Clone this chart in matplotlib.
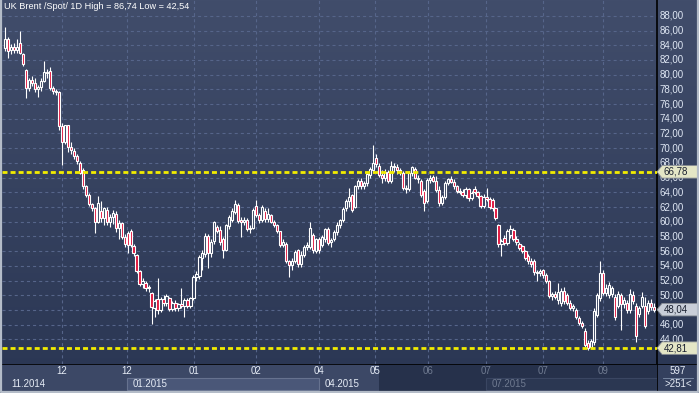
import numpy as np
import matplotlib.pyplot as plt
from matplotlib.patches import Rectangle, Polygon

plt.rcParams['font.family'] = ['Liberation Sans', 'DejaVu Sans']
plt.rcParams['lines.scale_dashes'] = False

title = "UK Brent /Spot/ 1D High = 86,74 Low = 42,54"

# daily candles
opens = [83.6, 84.9, 83.3, 83.8, 83.4, 84.3, 82.8, 80.6, 78.2, 79.3,
         78.8, 78.0, 78.3, 79.2, 80.3, 80.5, 78.2, 77.8, 77.6, 73.0,
         70.8, 73.1, 70.2, 69.6, 68.9, 68.0, 67.0, 64.8, 63.6, 62.4,
         61.8, 60.0, 61.5, 60.5, 61.6, 59.9, 60.6, 61.0, 59.2, 59.8,
         57.9, 58.5, 58.7, 56.7, 55.5, 53.3, 51.5, 51.7, 51.0, 50.3,
         48.3, 49.5, 48.0, 49.5, 49.0, 49.6, 48.1, 48.9, 48.2, 48.8,
         48.6, 49.4, 48.6, 49.6, 52.5, 52.6, 55.0, 55.6, 58.0, 55.8,
         57.4, 59.3, 58.9, 57.6, 56.2, 59.4, 60.3, 61.3, 62.3, 60.2,
         60.0, 60.3, 59.0, 59.2, 62.2, 60.9, 60.2, 61.5, 60.4, 60.9,
         60.0, 59.5, 58.7, 56.8, 57.0, 54.6, 54.1, 54.7, 56.1, 54.2,
         55.5, 56.5, 56.6, 58.2, 56.0, 57.6, 56.8, 57.6, 59.0, 57.2,
         57.7, 58.6, 59.5, 60.2, 61.8, 62.8, 63.6, 62.0, 64.8, 65.6,
         64.8, 65.2, 66.4, 67.0, 68.6, 67.6, 66.4, 66.0, 66.8, 65.5,
         67.6, 67.4, 67.0, 66.6, 64.6, 64.5, 66.6, 67.2, 66.0, 65.6,
         64.2, 62.8, 65.7, 66.1, 65.6, 64.3, 62.6, 63.4, 65.3, 65.8,
         65.4, 64.8, 64.2, 64.0, 63.6, 64.4, 63.2, 64.4, 64.0, 63.5,
         62.1, 63.4, 63.1, 63.0, 61.8, 59.5, 57.0, 57.8, 57.1, 58.2,
         58.9, 57.7, 57.0, 56.7, 56.0, 55.4, 54.6, 54.6, 53.1, 53.0,
         53.4, 52.8, 51.9, 49.9, 50.2, 49.4, 49.0, 50.6, 50.0, 49.0,
         48.3, 48.0, 46.9, 46.2, 45.2, 43.5, 43.0, 43.6, 47.3, 49.6,
         53.0, 50.3, 50.0, 50.2, 49.8, 48.6, 50.0, 48.8, 49.0, 48.0,
         50.0, 48.6, 47.5, 48.5, 48.5, 47.8, 49.0, 48.4]
highs = [86.5, 85.1, 84.2, 84.3, 84.8, 86.0, 83.0, 80.8, 79.6, 79.8,
         79.5, 78.6, 79.5, 81.9, 80.8, 81.0, 78.5, 78.0, 77.8, 73.4,
         73.2, 73.2, 70.8, 70.0, 69.2, 68.2, 67.3, 65.0, 63.9, 62.6,
         62.0, 63.5, 62.8, 62.0, 62.0, 61.0, 61.6, 61.4, 60.2, 60.0,
         58.3, 58.8, 59.0, 57.0, 55.6, 53.5, 52.4, 52.0, 51.4, 50.5,
         49.5, 52.3, 49.8, 50.1, 50.2, 49.8, 49.2, 49.4, 49.0, 51.0,
         49.6, 49.6, 49.8, 52.8, 53.3, 55.5, 56.2, 58.4, 58.3, 57.6,
         60.1, 59.6, 59.4, 57.9, 59.7, 60.9, 61.8, 63.0, 62.6, 60.6,
         60.6, 60.5, 59.5, 61.9, 62.9, 61.2, 62.3, 61.8, 61.8, 61.1,
         60.3, 59.7, 58.8, 57.6, 57.2, 54.8, 55.1, 56.2, 56.3, 56.0,
         56.8, 57.2, 60.0, 58.5, 57.8, 57.9, 58.2, 59.2, 59.3, 57.8,
         58.9, 60.0, 60.4, 62.0, 63.1, 64.6, 63.8, 65.0, 65.8, 65.9,
         65.6, 66.8, 67.5, 70.4, 69.2, 68.0, 67.0, 67.2, 67.0, 68.2,
         68.0, 67.8, 67.3, 66.9, 65.0, 66.9, 67.6, 67.4, 66.4, 65.8,
         64.5, 66.0, 66.4, 66.4, 66.2, 64.8, 63.6, 65.6, 66.0, 66.2,
         65.8, 65.0, 64.6, 64.5, 64.7, 64.6, 64.2, 64.8, 64.2, 63.7,
         63.8, 64.6, 63.4, 63.2, 62.0, 59.7, 57.7, 58.2, 59.0, 59.5,
         59.2, 58.0, 57.3, 56.9, 56.2, 55.6, 55.0, 54.9, 53.5, 53.6,
         53.6, 53.0, 52.1, 50.5, 50.6, 51.6, 51.0, 51.1, 50.3, 49.3,
         48.8, 48.3, 47.2, 46.5, 45.5, 43.9, 44.0, 48.2, 50.3, 54.6,
         53.4, 51.5, 51.8, 51.2, 50.2, 50.6, 50.3, 49.8, 49.3, 50.8,
         50.6, 49.0, 48.5, 50.4, 49.8, 49.3, 49.5, 49.0]
lows = [83.2, 82.3, 82.8, 83.0, 83.0, 82.8, 81.2, 76.8, 77.8, 78.4,
        77.6, 76.9, 77.8, 79.0, 79.6, 77.9, 77.3, 77.2, 72.5, 67.7,
        70.5, 69.5, 69.2, 68.5, 67.8, 66.5, 64.5, 63.4, 62.2, 61.5,
        58.4, 59.8, 60.0, 59.6, 59.5, 59.3, 59.7, 58.6, 57.6, 57.6,
        56.5, 55.7, 56.5, 55.4, 53.0, 51.2, 51.0, 50.6, 50.5, 46.1,
        47.0, 47.5, 47.7, 48.6, 48.5, 47.8, 47.8, 47.8, 47.9, 48.3,
        47.0, 48.3, 48.2, 49.3, 51.9, 52.2, 53.5, 55.2, 53.7, 55.2,
        57.0, 58.4, 56.9, 55.0, 56.0, 59.0, 60.0, 61.0, 59.8, 57.9,
        59.5, 58.8, 58.5, 59.0, 60.7, 59.8, 60.0, 60.0, 60.0, 59.8,
        59.3, 58.5, 56.5, 56.5, 54.4, 52.5, 53.5, 54.4, 53.9, 53.9,
        55.2, 56.1, 56.3, 55.8, 55.7, 55.8, 56.6, 57.3, 56.8, 56.5,
        57.4, 58.2, 59.2, 59.9, 61.5, 62.0, 61.3, 61.8, 64.4, 64.5,
        64.4, 64.9, 66.0, 66.6, 67.5, 66.1, 65.2, 65.6, 65.2, 65.2,
        66.8, 66.5, 66.4, 64.3, 63.9, 64.2, 66.2, 65.8, 65.3, 63.3,
        61.4, 62.5, 65.2, 65.4, 64.0, 62.2, 62.3, 63.1, 65.0, 65.2,
        64.5, 63.9, 63.8, 63.3, 63.2, 62.8, 62.9, 63.8, 63.2, 61.8,
        61.9, 62.8, 61.7, 61.5, 60.3, 56.6, 55.3, 56.8, 56.9, 57.8,
        57.4, 56.8, 56.1, 55.8, 54.8, 54.3, 53.9, 52.8, 52.0, 52.6,
        52.4, 51.6, 49.6, 49.3, 49.5, 48.8, 48.6, 48.8, 48.7, 48.0,
        47.8, 46.8, 45.9, 45.5, 43.0, 42.5, 42.8, 43.3, 47.0, 49.2,
        50.0, 49.9, 49.6, 49.8, 46.6, 48.3, 45.3, 48.2, 47.6, 47.6,
        48.8, 43.7, 47.0, 48.2, 45.6, 47.4, 48.0, 47.7]
closes = [84.9, 83.2, 83.8, 83.4, 83.8, 82.9, 81.5, 78.2, 79.3, 78.8,
          78.0, 78.3, 79.2, 80.3, 80.2, 78.2, 77.8, 77.6, 73.0, 70.8,
          73.1, 70.2, 69.8, 68.9, 68.2, 66.6, 64.8, 63.6, 62.4, 61.8,
          60.0, 62.5, 60.5, 61.8, 59.9, 60.6, 61.2, 59.2, 59.8, 57.9,
          57.0, 56.8, 56.8, 55.7, 53.3, 51.5, 52.0, 51.0, 51.0, 48.4,
          49.2, 48.0, 49.5, 49.0, 49.9, 48.1, 48.9, 48.2, 48.8, 48.6,
          49.4, 48.6, 49.6, 52.5, 52.9, 55.2, 55.8, 58.1, 55.8, 57.3,
          59.9, 58.8, 57.2, 56.2, 59.5, 60.6, 61.4, 62.4, 60.1, 60.0,
          60.3, 59.0, 59.2, 61.6, 60.9, 60.2, 62.0, 60.4, 61.0, 60.0,
          59.6, 58.7, 56.8, 57.3, 54.7, 54.1, 54.7, 55.9, 54.2, 55.5,
          56.5, 56.9, 59.2, 56.1, 57.6, 56.1, 57.9, 59.0, 57.1, 57.5,
          58.6, 59.6, 60.2, 61.7, 62.8, 63.4, 61.6, 64.8, 65.5, 64.8,
          65.2, 66.5, 67.2, 68.0, 67.8, 66.4, 66.0, 66.8, 65.5, 67.6,
          67.4, 67.0, 66.7, 64.6, 64.4, 66.6, 67.4, 66.0, 65.8, 63.6,
          62.6, 65.7, 66.0, 65.6, 64.3, 62.6, 63.4, 65.3, 65.8, 65.4,
          64.8, 64.2, 64.0, 63.6, 64.4, 63.2, 63.9, 64.0, 63.5, 62.1,
          63.4, 63.1, 62.0, 61.8, 60.5, 57.0, 57.4, 57.1, 58.7, 59.0,
          57.7, 57.2, 56.4, 56.0, 55.1, 54.6, 54.2, 53.1, 53.0, 53.3,
          52.8, 51.9, 49.9, 50.2, 49.8, 50.4, 50.6, 49.2, 49.0, 48.3,
          48.5, 47.0, 46.2, 45.8, 43.3, 42.8, 43.8, 47.9, 50.0, 53.0,
          50.3, 51.0, 51.4, 51.0, 47.0, 50.2, 48.8, 49.4, 48.0, 50.2,
          49.2, 44.5, 48.2, 49.8, 45.8, 49.0, 48.4, 48.04]

tick_pos = [19, 40.7, 63.3, 84, 105, 123.7, 141.3, 160.7, 180, 200]
tick_labels = ["12", "12", "01", "02", "04", "05", "06", "07", "07", "09"]
period_pos = [0, 40.7, 105, 160.7]
period_labels = ["11.2014", "01.2015", "04.2015", "07.2015"]
shade_from = 125
level_hi = 66.78
level_lo = 42.81
last_price = 48.04
bar_count = "597"
visible_bars = ">251<"

W, H = 699, 393
fig = plt.figure(figsize=(W / 100, H / 100), dpi=100)
fig.patch.set_facecolor('#34405e')

# background gradient over the whole picture
bg = fig.add_axes([0, 0, 1, 1])
grad = np.linspace(0, 1, 256).reshape(-1, 1)
top_c = np.array([0x41, 0x4d, 0x6b]) / 255
bot_c = np.array([0x2a, 0x36, 0x53]) / 255
img = top_c * (1 - grad[..., None]) + bot_c * grad[..., None]
bg.imshow(img, aspect='auto', extent=[0, 1, 0, 1])
bg.set_xlim(0, 1)
bg.set_ylim(0, 1)
bg.axis('off')

px_l, px_r, px_t, px_b = 2, 657, 0, 364
ax = fig.add_axes([px_l / W, 1 - px_b / H, (px_r - px_l) / W, (px_b - px_t) / H])
ax.set_facecolor('none')
n = len(closes)
idx = np.arange(n)
ax.set_xlim(-1.0, 218.0)
ax.set_ylim(40.65, 90.15)

# grid
grid_c = '#56658a'
for v in range(44, 90, 2):
    ax.axhline(v, color=grid_c, lw=0.8, dashes=(2.2, 2.2), zorder=1)
for t in tick_pos:
    ax.axvline(t, color=grid_c, lw=0.8, dashes=(2.2, 2.2), zorder=1)

# candles
o = np.array(opens)
c = np.array(closes)
hi = np.array(highs)
lo = np.array(lows)
down = c < o
ax.vlines(idx, lo, hi, color='white', lw=0.8, zorder=2)
body_b = np.minimum(o, c)
body_h = np.maximum(np.abs(c - o), 0.12)
face = np.where(down, '#e0143c', '#323e5c')
ax.bar(idx, body_h, bottom=body_b, width=0.74, color=face,
       edgecolor='white', linewidth=0.8, zorder=3)

# support / resistance levels
for lv in (level_hi, level_lo):
    ax.axhline(lv, color='#f2ec00', lw=2.0, dashes=(3.6, 2.2), zorder=4)

ax.text(0.003, 0.994, title, transform=ax.transAxes, ha='left', va='top',
        color='white', fontsize=6.6, zorder=5)

ax.set_xticks([])
ax.set_yticks([])
for s in ax.spines.values():
    s.set_visible(False)
ax.spines['right'].set_visible(True)
ax.spines['right'].set_color('black')
ax.spines['right'].set_linewidth(1.2)

# right price scale
rx = fig.add_axes([px_r / W, 1 - px_b / H, (W - px_r) / W, (px_b - px_t) / H])
rx.set_facecolor('none')
rx.set_xlim(0, 1)
rx.set_ylim(ax.get_ylim())
rx.axis('off')
for v in range(44, 90, 2):
    rx.text(0.07, v, f"{v:.2f}".replace('.', ','), color='#dfe7f4',
            fontsize=7, va='center', ha='left')


def price_tag(val, fc):
    h = 0.85
    pts = [(0.0, val), (0.12, val + h), (0.97, val + h),
           (0.97, val - h), (0.12, val - h)]
    rx.add_patch(Polygon(pts, closed=True, facecolor=fc, edgecolor='#8a8f96',
                         lw=0.6, zorder=5))
    rx.text(0.16, val, f"{val:.2f}".replace('.', ','), color='#1a2030',
            fontsize=7, va='center', ha='left', zorder=6)


price_tag(level_hi, '#e4e6c6')
price_tag(last_price, '#c9ced8')
price_tag(level_lo, '#e4e6c6')

# bottom date scale
bx = fig.add_axes([px_l / W, 2 / H, (px_r - px_l) / W, (H - px_b - 2) / H])
bx.set_xlim(ax.get_xlim())
bx.set_ylim(0, 1)
bx.set_facecolor('#3c4866')
bx.axis('off')
bx.add_patch(Rectangle((-1, 0), 220, 1, facecolor='#3c4866', zorder=0))
bx.add_patch(Rectangle((period_pos[1], 0.03), period_pos[2] - period_pos[1], 0.44,
                       facecolor='#4a5778', edgecolor='#66728f', lw=0.8, zorder=1))
bx.add_patch(Rectangle((shade_from, 0), 220 - shade_from, 1,
                       facecolor='#26314b', zorder=2))
bx.add_patch(Rectangle((period_pos[3], 0.03), 218 - period_pos[3], 0.44,
                       facecolor='#2b3752', edgecolor='#3a4662', lw=0.8, zorder=3))
for t, lab in zip(tick_pos, tick_labels):
    col = '#e6ecf6' if t < shade_from else '#6f7a90'
    bx.text(t, 0.73, lab, color=col, fontsize=7, ha='center', va='center', zorder=4)
for t, lab in zip(period_pos, period_labels):
    col = '#e6ecf6' if t < shade_from else '#6f7a90'
    bx.text(t + 2, 0.25, lab, color=col, fontsize=7, ha='left', va='center', zorder=4)
bx.plot([-1, 218], [1, 1], color='black', lw=1.2, zorder=5)

# bottom-right corner box
cx = fig.add_axes([px_r / W, 2 / H, (W - px_r) / W, (H - px_b - 2) / H])
cx.set_xlim(0, 1)
cx.set_ylim(0, 1)
cx.axis('off')
cx.add_patch(Rectangle((0, 0), 1, 1, facecolor='#34405e', zorder=0))
cx.plot([0, 0], [0, 1], color='black', lw=1.2)
cx.plot([0, 1], [1, 1], color='black', lw=1.2)
cx.plot([0.15, 0.85], [0.5, 0.5], color='#8090aa', lw=0.6)
cx.text(0.5, 0.73, bar_count, color='#e6ecf6', fontsize=7, ha='center', va='center')
cx.text(0.5, 0.25, visible_bars, color='#e6ecf6', fontsize=7, ha='center', va='center')

# outer light frame
fr = fig.add_axes([0, 0, 1, 1])
fr.set_xlim(0, W)
fr.set_ylim(H, 0)
fr.axis('off')
fr.patch.set_alpha(0)
fr.plot([1, 1, W - 1, W - 1], [0, H - 1, H - 1, 0], color='#b4bcc8', lw=1.6)

fig.savefig('out.png', dpi=100, facecolor=fig.get_facecolor())
